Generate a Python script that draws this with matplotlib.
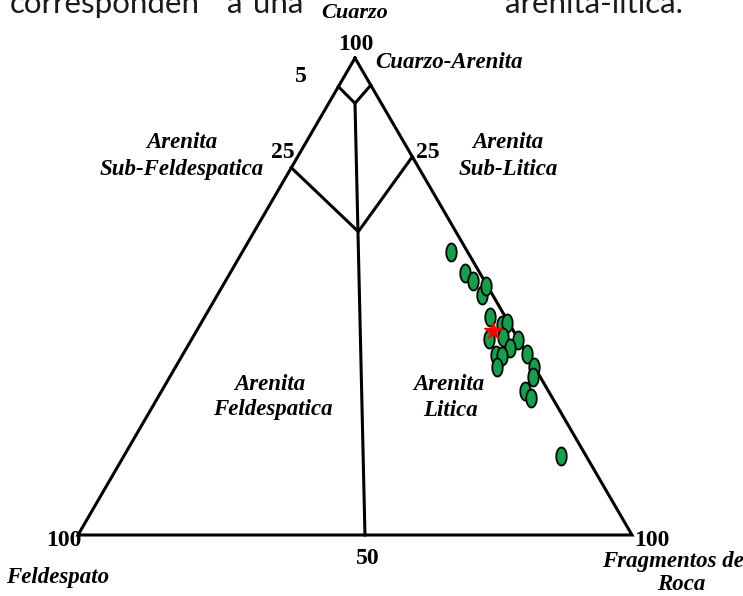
import numpy as np
import matplotlib.pyplot as plt

# sample compositions (% Cuarzo, % Feldespato, % Fragmentos de Roca)
q_pts = [59.4, 54.9, 53.3, 50.4, 52.2, 45.6, 44.0, 44.4, 41.1, 41.5, 40.8,
         39.3, 37.8, 37.6, 35.3, 37.9, 35.3, 33.1, 30.2, 28.7, 16.6]
f_pts = [2.9, 2.7, 2.0, 1.9, 0.3, 2.9, 1.4, 0.3, 5.2, 2.5, 0.2,
         2.4, 5.6, 4.6, 6.8, 0.0, 0.0, 1.4, 4.3, 3.9, 4.5]
r_pts = [37.7, 42.4, 44.7, 47.7, 47.5, 51.5, 54.6, 55.3, 53.7, 56.0, 59.0,
         58.3, 56.6, 57.8, 57.9, 62.1, 64.7, 65.5, 65.5, 67.4, 78.9]

# mean composition (star)
q_mean, f_mean, r_mean = 42.8, 3.7, 53.5

# field boundaries as drawn (Q, F, R)
upper_v = [(94.0, 6.0, 0.0), (90.5, 4.75, 4.75), (94.3, 0.0, 5.7)]
lower_v = [(77.0, 23.0, 0.0), (63.6, 17.6, 18.8), (79.3, 0.0, 20.7)]
center_line = [(90.5, 4.75, 4.75), (0.0, 48.2, 51.8)]
corners = [(100, 0, 0), (0, 100, 0), (0, 0, 100), (100, 0, 0)]


def tern(q, f, r):
    q, f, r = np.asarray(q, float), np.asarray(f, float), np.asarray(r, float)
    s = q + f + r
    q, r = 100 * q / s, 100 * r / s
    return r + q / 2, q


def path(pts):
    q, f, r = zip(*pts)
    return tern(q, f, r)


W, H = 743, 596
fig = plt.figure(figsize=(W / 100, H / 100), dpi=100)
ax = fig.add_axes([0, 0, 1, 1])
ax.axis('off')
# 100 units of x -> 554 px, 100 units of Q -> 477 px
ax.set_xlim(-78 / 5.54, (W - 78) / 5.54)
ax.set_ylim(-(H - 535) / 4.77, 535 / 4.77)

lw = 2.2
for pts in [corners, upper_v, lower_v, center_line]:
    x, y = path(pts)
    ax.plot(x, y, color='black', lw=lw, solid_joinstyle='miter', zorder=2)

t = np.linspace(0, 2 * np.pi, 40)
ellipse = list(zip(0.58 * np.cos(t), np.sin(t)))
x, y = tern(q_pts, f_pts, r_pts)
ax.plot(x, y, ls='none', marker=ellipse, ms=13, mfc='#12a04a',
        mec='black', mew=1.3, zorder=3)
x, y = tern(q_mean, f_mean, r_mean)
ax.plot(x, y, ls='none', marker='*', ms=13, mfc='#ff0000', mec='#ff0000',
        zorder=4)


def label(xp, yp, s, size=16.5, italic=True, ha='center', **kw):
    fig.text(xp / W, 1 - yp / H, s, ha=ha, va='center', fontsize=size,
             family='Liberation Serif', weight='bold',
             style='italic' if italic else 'normal', **kw)


label(355, 13, 'Cuarzo', size=16)
label(356, 44, '100', size=17, italic=False)
label(375, 63, 'Cuarzo-Arenita', ha='left')
label(301, 77, '5', size=17, italic=False)
label(283, 152, '25', size=17, italic=False)
label(428, 152, '25', size=17, italic=False)
label(182, 142, 'Arenita')
label(182, 169, 'Sub-Feldespatica')
label(508, 142, 'Arenita')
label(508, 169, 'Sub-Litica')
label(270, 384, 'Arenita')
label(273, 410, 'Feldespatica')
label(449, 384, 'Arenita')
label(451, 410, 'Litica')
label(64, 541, '100', size=17, italic=False)
label(58, 577, 'Feldespato')
label(368, 558, '50', size=17, italic=False)
label(652, 540, '100', size=17, italic=False)
label(673, 561, 'Fragmentos de')
label(681, 585, 'Roca')

# cropped line of document text above the figure
for xp, word in [(10, 'corresponden'), (227, 'a'), (253, 'una'),
                 (505, 'arenita-litica.')]:
    fig.text(xp / W, 1 - 13 / H, word, ha='left', va='baseline',
             fontsize=22.5, family='Lato', color='#1a1a1a')

fig.savefig('out.png', dpi=100)
